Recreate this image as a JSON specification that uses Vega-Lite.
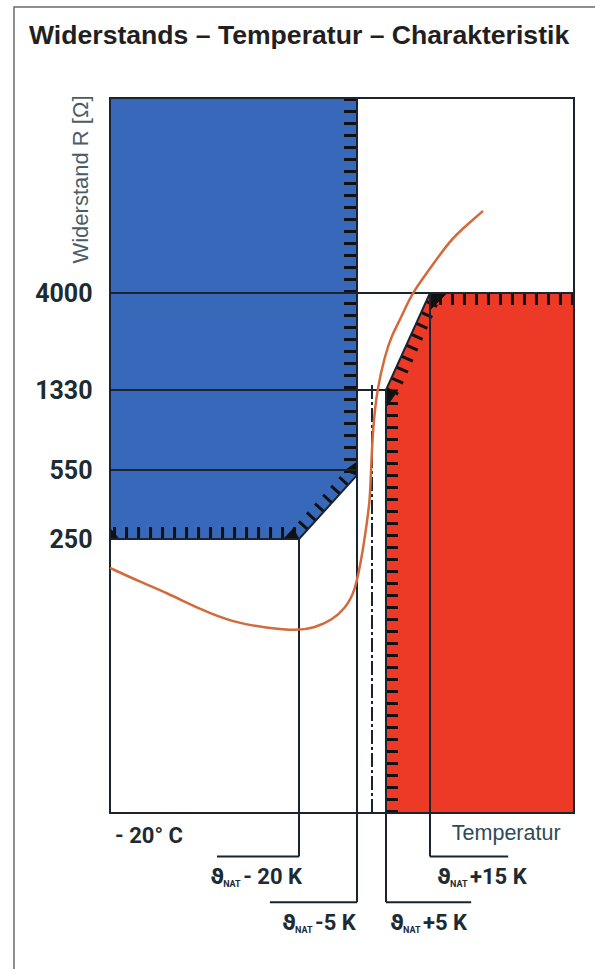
{
  "$schema": "https://vega.github.io/schema/vega-lite/v6.json",
  "width": 595,
  "height": 969,
  "autosize": {"type": "none"},
  "padding": 0,
  "background": "white",
  "config": {"view": {"stroke": null}},
  "datasets": {
    "frame": [{"t": -95.4, "r": 117200, "t2": 60, "r2": 1}],
    "plot": [{"t": -70, "r": 10, "t2": 50, "r2": 40000}],
    "blue": [
      {"t": -70, "r": 250, "r2": 40000},
      {"t": -20, "r": 250, "r2": 40000},
      {"t": -5, "r": 519, "r2": 40000}
    ],
    "red": [
      {"t": 5, "r": 10, "r2": 1330},
      {"t": 15, "r": 10, "r2": 4000},
      {"t": 50, "r": 10, "r2": 4000}
    ],
    "hatch": [
      {"part": "blue", "o": 1, "t": -6.81, "r": 40000},
      {"part": "blue", "o": 2, "t": -6.81, "r": 525},
      {"part": "blue", "o": 3, "t": -20.69, "r": 268},
      {"part": "blue", "o": 4, "t": -70, "r": 268},
      {"part": "red", "o": 1, "t": 6.36, "r": 10},
      {"part": "red", "o": 2, "t": 6.36, "r": 1281},
      {"part": "red", "o": 3, "t": 15.95, "r": 3739},
      {"part": "red", "o": 4, "t": 50, "r": 3739}
    ],
    "corners": [
      {"c": "a", "o": 1, "t": -70, "r": 250}, {"c": "a", "o": 2, "t": -67.6, "r": 250}, {"c": "a", "o": 3, "t": -70, "r": 282},
      {"c": "b", "o": 1, "t": -24.2, "r": 250}, {"c": "b", "o": 2, "t": -20, "r": 250}, {"c": "b", "o": 3, "t": -21.6, "r": 282},
      {"c": "c", "o": 1, "t": -5, "r": 519}, {"c": "c", "o": 2, "t": -8.2, "r": 545}, {"c": "c", "o": 3, "t": -5, "r": 600},
      {"c": "d", "o": 1, "t": 15, "r": 4000}, {"c": "d", "o": 2, "t": 19.1, "r": 4000}, {"c": "d", "o": 3, "t": 15, "r": 3300},
      {"c": "e", "o": 1, "t": 5, "r": 1330}, {"c": "e", "o": 2, "t": 7.7, "r": 1330}, {"c": "e", "o": 3, "t": 5, "r": 1100}
    ],
    "segments": [
      {"t": -70, "r": 4000, "t2": 50, "r2": 4000},
      {"t": -70, "r": 1330, "t2": 5, "r2": 1330},
      {"t": -70, "r": 550, "t2": -5, "r2": 550},
      {"t": -70, "r": 250, "t2": -20, "r2": 250},
      {"t": -20, "r": 250, "t2": -5, "r2": 519},
      {"t": 5, "r": 1330, "t2": 15, "r2": 4000},
      {"t": -20, "r": 250, "t2": -20, "r2": 6},
      {"t": -41.7, "r": 6, "t2": -20, "r2": 6},
      {"t": -5, "r": 40000, "t2": -5, "r2": 3.5},
      {"t": -27.7, "r": 3.5, "t2": -5, "r2": 3.5},
      {"t": 5, "r": 1330, "t2": 5, "r2": 3.5},
      {"t": 5, "r": 3.5, "t2": 25, "r2": 3.5},
      {"t": 15, "r": 4000, "t2": 15, "r2": 6},
      {"t": 15, "r": 6, "t2": 34, "r2": 6}
    ],
    "nat": [{"t": 0, "r": 1407, "t2": 0, "r2": 10}],
    "curve": [
      {"t": -70, "r": 178}, {"t": -62, "r": 151}, {"t": -55, "r": 133},
      {"t": -46, "r": 109}, {"t": -37.5, "r": 94}, {"t": -28.5, "r": 88},
      {"t": -20.5, "r": 85}, {"t": -16, "r": 88}, {"t": -11.2, "r": 97},
      {"t": -8.1, "r": 111}, {"t": -5.5, "r": 133}, {"t": -3, "r": 220},
      {"t": -1.83, "r": 293}, {"t": -0.67, "r": 390}, {"t": -0.33, "r": 550},
      {"t": 0.36, "r": 884}, {"t": 1.79, "r": 1330}, {"t": 4.64, "r": 1979},
      {"t": 6.36, "r": 2483}, {"t": 8.18, "r": 2943}, {"t": 10.91, "r": 4000},
      {"t": 14.32, "r": 5067}, {"t": 19.86, "r": 7478}, {"t": 24.24, "r": 9033},
      {"t": 27.88, "r": 10535}
    ],
    "klabels": [
      {"t": -43.5, "r": 6, "rest": "- 20 K"},
      {"t": -24.5, "r": 3.5, "rest": "-5 K"},
      {"t": 5.9, "r": 3.5, "rest": "+5 K"},
      {"t": 16.7, "r": 6, "rest": "+15 K"}
    ],
    "tmin": [{"t": -70, "r": 10, "label": "- 20° C"}],
    "tlab": [{"t": 20.3, "r": 10, "label": "Temperatur"}]
  },
  "encoding": {
    "x": {
      "field": "t",
      "type": "quantitative",
      "scale": {"domain": [-70, -20, -5, 0, 5, 15, 50], "range": [110, 299, 357, 372, 386, 430, 574], "nice": false, "zero": false},
      "axis": null
    },
    "y": {
      "field": "r",
      "type": "quantitative",
      "scale": {"type": "log", "domain": [10, 250, 550, 1330, 4000, 40000], "range": [813, 539, 470, 390, 293, 98], "nice": false},
      "axis": {
        "values": [250, 550, 1330, 4000],
        "format": "d",
        "offset": -100,
        "domain": false,
        "grid": false,
        "ticks": false,
        "tickSize": 0,
        "labelPadding": 8,
        "labelFont": "Roboto",
        "labelFontWeight": "bold",
        "labelFontSize": 25,
        "labelColor": "#1d2b33",
        "labelAlign": "right",
        "labelBaseline": "middle",
        "labelOverlap": false,
        "title": "Widerstand R [Ω]",
        "titleFont": "Liberation Sans",
        "titleFontWeight": "normal",
        "titleFontSize": 22,
        "titleColor": "#4a5d66",
        "titleAngle": -90,
        "titleAlign": "right",
        "titleBaseline": "bottom",
        "titleX": -8,
        "titleY": 95
      }
    }
  },
  "layer": [
    {
      "data": {"name": "frame"},
      "mark": {"type": "rect", "fill": null, "stroke": "#6b6b6b", "strokeWidth": 1.5},
      "encoding": {"x2": {"field": "t2"}, "y2": {"field": "r2"}}
    },
    {
      "data": {"name": "frame"},
      "mark": {"type": "text", "text": "Widerstands – Temperatur – Charakteristik", "align": "left", "baseline": "alphabetic", "dx": 15, "dy": 37, "font": "Liberation Sans", "fontWeight": "bold", "fontSize": 26.6, "fill": "#231f20"},
      "encoding": {}
    },
    {
      "data": {"name": "blue"},
      "mark": {"type": "area", "color": "#3868ba", "opacity": 1},
      "encoding": {"y2": {"field": "r2"}}
    },
    {
      "data": {"name": "red"},
      "mark": {"type": "area", "color": "#ec3a26", "opacity": 1},
      "encoding": {"y2": {"field": "r2"}}
    },
    {
      "data": {"name": "hatch"},
      "mark": {"type": "line", "color": "#111111", "strokeWidth": 12, "strokeDash": [3, 9], "strokeCap": "butt"},
      "encoding": {"detail": {"field": "part"}, "order": {"field": "o", "type": "quantitative"}}
    },
    {
      "data": {"name": "corners"},
      "mark": {"type": "line", "color": "#111111", "fill": "#111111", "strokeWidth": 1},
      "encoding": {"detail": {"field": "c"}, "order": {"field": "o", "type": "quantitative"}}
    },
    {
      "data": {"name": "plot"},
      "mark": {"type": "rect", "fill": null, "stroke": "#1a2430", "strokeWidth": 2},
      "encoding": {"x2": {"field": "t2"}, "y2": {"field": "r2"}}
    },
    {
      "data": {"name": "segments"},
      "mark": {"type": "rule", "color": "#1a2430", "strokeWidth": 2},
      "encoding": {"x2": {"field": "t2"}, "y2": {"field": "r2"}}
    },
    {
      "data": {"name": "nat"},
      "mark": {"type": "rule", "color": "#1a2430", "strokeWidth": 2, "strokeDash": [14, 3, 3, 3]},
      "encoding": {"x2": {"field": "t2"}, "y2": {"field": "r2"}}
    },
    {
      "data": {"name": "curve"},
      "mark": {"type": "line", "color": "#d36a3c", "strokeWidth": 2.5, "interpolate": "basis"},
      "encoding": {}
    },
    {
      "data": {"name": "klabels"},
      "mark": {"type": "text", "text": "ϑ", "align": "left", "baseline": "alphabetic", "dy": 28, "font": "DejaVu Sans", "fontWeight": "bold", "fontSize": 21, "fill": "#1d2b33"},
      "encoding": {}
    },
    {
      "data": {"name": "klabels"},
      "mark": {"type": "text", "text": "NAT", "align": "left", "baseline": "alphabetic", "dx": 13, "dy": 31, "font": "Roboto", "fontWeight": "bold", "fontSize": 9, "fill": "#1d2b33"},
      "encoding": {}
    },
    {
      "data": {"name": "klabels"},
      "mark": {"type": "text", "align": "left", "baseline": "alphabetic", "dx": 33, "dy": 28, "font": "Roboto", "fontWeight": "bold", "fontSize": 22, "fill": "#1d2b33"},
      "encoding": {"text": {"field": "rest"}}
    },
    {
      "data": {"name": "tmin"},
      "mark": {"type": "text", "align": "left", "baseline": "alphabetic", "dx": 5, "dy": 30, "font": "Roboto", "fontWeight": "bold", "fontSize": 22, "fill": "#1d2b33"},
      "encoding": {"text": {"field": "label"}}
    },
    {
      "data": {"name": "tlab"},
      "mark": {"type": "text", "align": "left", "baseline": "alphabetic", "dy": 27, "font": "Liberation Sans", "fontSize": 21.5, "fill": "#2e4b56"},
      "encoding": {"text": {"field": "label"}}
    }
  ]
}
